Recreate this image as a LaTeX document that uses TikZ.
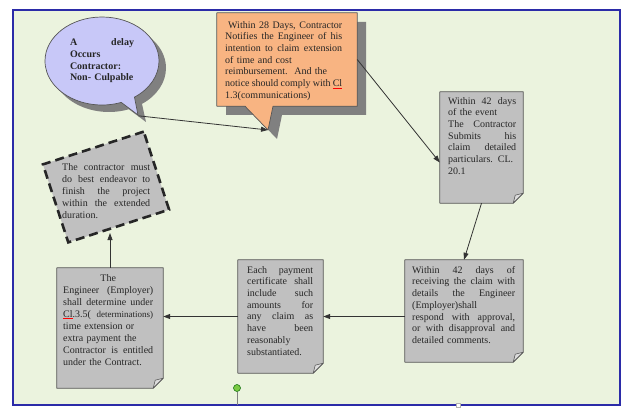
\documentclass[tikz,border=0pt]{standalone}
\usepackage{fontspec}
\setmainfont{Liberation Serif}
\usetikzlibrary{shapes.callouts,arrows.meta}
\definecolor{bggreen}{HTML}{EBF3DE}
\definecolor{framecol}{HTML}{2B2BA8}
\definecolor{notegray}{HTML}{C0C0C0}
\definecolor{foldgray}{HTML}{DCDCDC}
\definecolor{edgegray}{HTML}{555555}
\definecolor{shadowcol}{HTML}{808080}
\definecolor{lavender}{HTML}{C8C8F8}
\definecolor{orangefill}{HTML}{F8B482}
\definecolor{textcol}{HTML}{262626}
\definecolor{handlegreen}{HTML}{7AC943}
\newcommand\jl[1]{\leavevmode\hbox to\hsize{\spaceskip=2.5pt plus 20pt minus 1pt\relax #1}}
\newcommand\spl[1]{\setbox0\hbox{#1}\rlap{\textcolor{red}{\rule[-1.6pt]{\wd0}{0.6pt}}}#1}
\newcommand\foldnote[1]{%
  \draw[notestyle] (#1.north west) -- (#1.north east) -- ([yshift=10pt]#1.south east)
    -- ([xshift=-10pt]#1.south east) -- (#1.south west) -- cycle;
  \draw[foldstyle] ([yshift=10pt]#1.south east) -- ([xshift=-10pt]#1.south east)
    -- ([xshift=-8pt,yshift=8pt]#1.south east) -- cycle;}
\begin{document}
\begin{tikzpicture}[x=1pt,y=-1pt,
  box/.style={rectangle,draw=none,inner sep=0pt},
  notestyle/.style={fill=notegray,draw=edgegray,line width=0.7pt,line join=round},
  foldstyle/.style={fill=foldgray,draw=edgegray,line width=0.6pt,line join=round},
  txt/.style={anchor=north west,inner sep=0pt,align=left,text=textcol,
    font=\fontsize{10}{11.7}\selectfont},
  conn/.style={draw=black!80,line width=0.8pt,-{Triangle[length=7pt,width=5pt]}}]
\useasboundingbox (0,0) rectangle (627,409);
\fill[white] (0,0) rectangle (627,409);
\fill[bggreen] (13,10) rectangle (620,405);
\draw[framecol,line width=1.5pt] (13,10) rectangle (620,405);

% bubble
\node[ellipse callout,fill=shadowcol,draw=none,minimum width=114,minimum height=88,
  callout absolute pointer={(146,122)}] (delayshadow) at (109,68) {};
\node[ellipse callout,fill=lavender,draw=edgegray,line width=0.7pt,inner sep=0pt,
  minimum width=114,minimum height=88,callout absolute pointer={(138,115)},
  text width=64,align=left,text=textcol,font=\bfseries\fontsize{10}{11.7}\selectfont]
  (delay) at (102,61) {\jl{A delay}\\ Occurs\\ Contractor:\\ Non- Culpable};

% orange callout
\fill[shadowcol] (226,22) -- (366,22) -- (366,115) -- (282,115) -- (277,139)
  -- (254,115) -- (226,115) -- cycle;
\node[box,minimum width=140,minimum height=93] (notice) at (287,59.5) {};
\coordinate (ntip) at (268,130);
\draw[fill=orangefill,draw=edgegray,line width=0.7pt,line join=round]
  (notice.north west) -- (notice.north east) -- (notice.south east)
  -- ([xshift=-14pt]notice.south) -- (ntip) -- ([xshift=-42pt]notice.south)
  -- (notice.south west) -- cycle;
\node[txt,text width=117] (tnotice) at (225,21) {%
  \jl{\hspace{3pt}Within 28 Days, Contractor}\\
  \jl{Notifies the Engineer of his}\\
  \jl{intention to claim extension}\\
  of time and cost\\
  reimbursement.\ \ And the\\
  \jl{notice should comply with \spl{Cl}}\\
  1.3(communications)};

% note boxes
\node[box,minimum width=83,minimum height=111] (b3) at (481.5,147.5) {};
\foldnote{b3}
\node[txt,text width=68] (t3) at (448,97) {%
  \jl{Within 42 days}\\ of the event\\ \jl{The Contractor}\\ \jl{Submits his}\\
  \jl{claim detailed}\\ \jl{particulars. CL.}\\ 20.1};

\node[box,minimum width=118,minimum height=102] (b4) at (464,311) {};
\foldnote{b4}
\node[txt,text width=103] (t4) at (412,266) {%
  \jl{Within 42 days of}\\ \jl{receiving the claim with}\\ \jl{details the Engineer}\\
  (Employer)shall\\ \jl{respond with approval,}\\ \jl{or with disapproval and}\\
  detailed comments.};

\node[box,minimum width=85,minimum height=113] (b5) at (280.5,316.5) {};
\foldnote{b5}
\node[txt,text width=66] (t5) at (247,266) {%
  \jl{Each payment}\\ \jl{certificate shall}\\ \jl{include such}\\ \jl{amounts for}\\
  \jl{any claim as}\\ \jl{have been}\\ reasonably\\ substantiated.};

\node[box,minimum width=106,minimum height=120] (b6) at (110,328) {};
\foldnote{b6}
\node[txt,text width=90,font=\fontsize{10}{12.1}\selectfont] (t6) at (63,274) {%
  \leavevmode\hbox to\hsize{\hfil The\hfil}\\ \jl{Engineer (Employer)}\\ \jl{shall determine under}\\
  \jl{\spl{Cl}.3.5( {\fontsize{9}{10}\selectfont determinations)}}\\
  time extension or\\ extra payment the\\ \jl{Contractor is entitled}\\
  under the Contract.};

% dashed rotated box
\node[rectangle,rotate=18,inner sep=0pt,minimum width=106,minimum height=82,
  fill=notegray,draw=black!85,line width=2.6pt,dash pattern=on 9pt off 5pt]
  (dash) at (106,187) {};
\node[txt,text width=88,font=\fontsize{10}{12}\selectfont] (tdash) at (62,163) {%
  \jl{The contractor must}\\ \jl{do best endeavor to}\\ \jl{finish the project}\\
  \jl{within the extended}\\ duration.};
\coordinate (dtip) at (110,233);

% connectors
\draw[conn] (delay.pointer) -- (ntip);
\draw[conn] (notice.east) -- ([yshift=-15pt]b3.west);
\draw[conn] (b3.south) -- (b4.north);
\draw[conn] (b4.west |- b5.east) -- (b5.east);
\draw[conn] (b5.west) -- (b5.west -| b6.east);
\draw[conn] (b6.north) -- (b6.north |- dtip);

% selection handles
\coordinate (hbase) at (237,405);
\node[circle,fill=handlegreen,draw=green!40!black,line width=0.5pt,inner sep=0pt,
  minimum size=7pt] (handle) at (237,388) {};
\draw[gray,line width=0.6pt] (handle.south) -- (hbase);
\node[rectangle,fill=white,draw=gray!60,line width=0.3pt,inner sep=0pt,minimum size=4pt]
  (hmark) at (458,405) {};
\end{tikzpicture}
\end{document}
